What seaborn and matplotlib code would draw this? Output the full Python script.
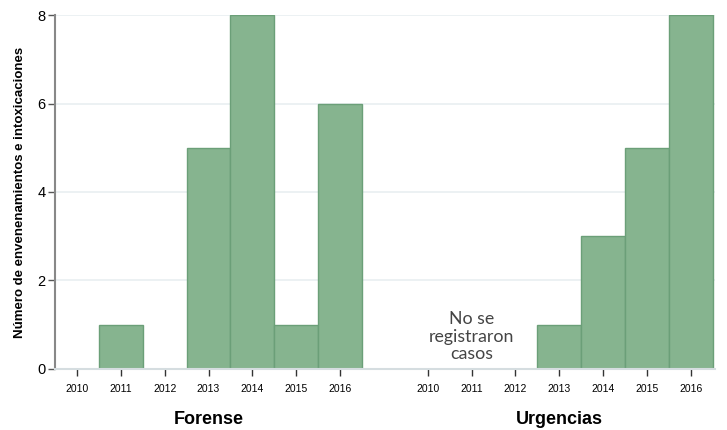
import pandas as pd
import matplotlib.pyplot as plt
import seaborn as sns

# Data
years = ['2010', '2011', '2012', '2013', '2014', '2015', '2016']
forense = [0, 1, 0, 5, 8, 1, 6]
urgencias = [0, 0, 0, 1, 3, 5, 8]
groups = ['Forense', 'Urgencias']

# one shared axis: Forense at 0..6, Urgencias at 8..14
rows = []
for g, (name, vals) in enumerate(zip(groups, [forense, urgencias])):
    for i, (yr, v) in enumerate(zip(years, vals)):
        rows.append({'grupo': name, 'anio': yr, 'pos': g * 8 + i, 'casos': v})
df = pd.DataFrame(rows)

sns.set_style('white')
plt.rcParams['text.color'] = 'black'
plt.rcParams['xtick.color'] = 'black'
plt.rcParams['ytick.color'] = 'black'
plt.rcParams['axes.labelcolor'] = 'black'

fig = plt.figure(figsize=(7.27, 4.30), dpi=100)
ax = fig.add_axes([0.0757, 0.1419, 0.9078, 0.8232])

for y in [2, 4, 6, 8]:
    ax.axhline(y, color='#e9eff1', lw=1.2, zorder=0)

sns.barplot(data=df[df['casos'] > 0], x='pos', y='casos', native_scale=True,
            width=1, color='#86b48f', saturation=1, edgecolor='#6b9f78',
            linewidth=1, ax=ax, zorder=2)

ax.set_xlim(-0.5, 14.55)
ax.set_ylim(0, 8)
ax.set_xticks(df['pos'])
ax.set_xticklabels(df['anio'], fontsize=7.5, family='Liberation Sans')
ax.set_yticks([0, 2, 4, 6, 8])
ax.set_yticklabels(['0', '2', '4', '6', '8'], fontsize=10.5, family='Liberation Sans')
ax.tick_params(axis='x', bottom=True, length=5, width=1, color='#333333', pad=6)
ax.tick_params(axis='y', left=True, length=5, width=1, color='#555555', pad=2)
ax.set_xlabel('')
ax.set_ylabel('Número de envenenamientos e intoxicaciones', fontsize=9.5,
              fontweight='bold', family='Liberation Sans', labelpad=8)

for side in ['top', 'right']:
    ax.spines[side].set_visible(False)
ax.spines['left'].set_color('#888888')
ax.spines['left'].set_linewidth(1.5)
ax.spines['bottom'].set_color('#d5dde0')
ax.spines['bottom'].set_linewidth(1.5)

# group labels below the years
for g, name in enumerate(groups):
    ax.text(g * 8 + 3, -1.15, name, ha='center', va='center', fontsize=13,
            fontweight='bold', family='Liberation Sans', clip_on=False)

ax.text(9, 0.73, 'No se\nregistraron\ncasos', ha='center', va='center',
        fontsize=12.8, color='#444444', family='Lato', linespacing=1.1)

fig.savefig('out.png', dpi=100)
